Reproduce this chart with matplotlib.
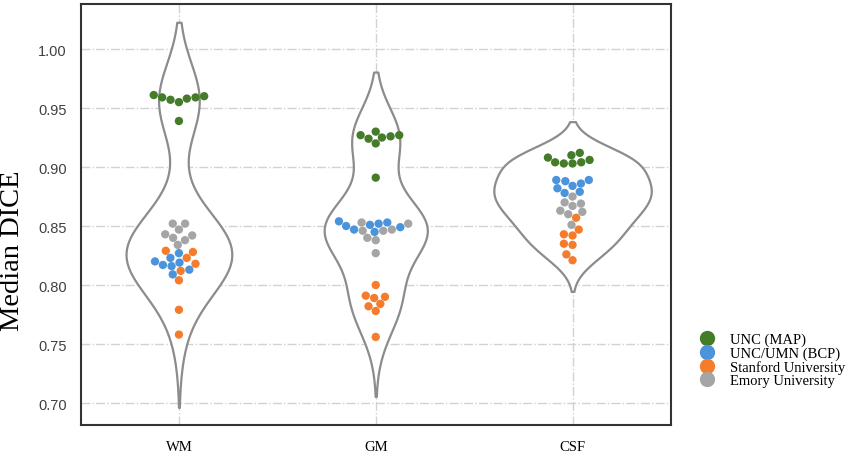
import numpy as np
import pandas as pd
import matplotlib
matplotlib.use("Agg")
import matplotlib.pyplot as plt
import seaborn as sns
from matplotlib.lines import Line2D

# tissue classes and sites
tissues = ["WM", "GM", "CSF"]
sites = ["UNC (MAP)", "UNC/UMN (BCP)", "Stanford University", "Emory University"]
site_colors = ["#447c2a", "#4b94dc", "#f47c2c", "#a5a5a5"]

# median DICE per subject
wm_map = [0.961, 0.959, 0.958, 0.955, 0.957, 0.959, 0.960, 0.939]
wm_bcp = [0.827, 0.820, 0.817, 0.816, 0.819, 0.809, 0.813, 0.823]
wm_stanford = [0.829, 0.828, 0.823, 0.818, 0.812, 0.804, 0.779, 0.758]
wm_emory = [0.852, 0.852, 0.847, 0.843, 0.842, 0.840, 0.838, 0.834]

gm_map = [0.930, 0.927, 0.927, 0.926, 0.925, 0.924, 0.920, 0.891]
gm_bcp = [0.854, 0.853, 0.852, 0.851, 0.847, 0.849, 0.845, 0.850]
gm_stanford = [0.800, 0.791, 0.790, 0.789, 0.784, 0.782, 0.778, 0.756]
gm_emory = [0.853, 0.852, 0.847, 0.846, 0.846, 0.840, 0.838, 0.827]

csf_map = [0.912, 0.910, 0.908, 0.904, 0.904, 0.903, 0.903, 0.906]
csf_bcp = [0.889, 0.889, 0.888, 0.884, 0.882, 0.879, 0.878, 0.886]
csf_stanford = [0.857, 0.847, 0.843, 0.842, 0.835, 0.834, 0.826, 0.821]
csf_emory = [0.875, 0.870, 0.869, 0.867, 0.863, 0.862, 0.860, 0.851]

groups = {
    "WM": [wm_map, wm_bcp, wm_stanford, wm_emory],
    "GM": [gm_map, gm_bcp, gm_stanford, gm_emory],
    "CSF": [csf_map, csf_bcp, csf_stanford, csf_emory],
}

rows = []
for t in tissues:
    for site, vals in zip(sites, groups[t]):
        for v in vals:
            rows.append((t, site, v))
df = pd.DataFrame(rows, columns=["tissue", "site", "dice"])

fig = plt.figure(figsize=(8.52, 4.6), dpi=100)
ax = fig.add_axes([0.0945, 0.075, 0.693, 0.914])

sns.violinplot(data=df, x="tissue", y="dice", order=tissues, color="white",
               linecolor="#8c8c8c", linewidth=1.6, inner=None,
               density_norm="area", ax=ax)
sns.swarmplot(data=df, x="tissue", y="dice", order=tissues, hue="site",
              hue_order=sites, palette=site_colors, size=6, ax=ax,
              legend=False)

ax.set_xlim(-0.5, 2.5)
ax.set_ylim(0.6818, 1.0381)
ax.set_yticks(np.arange(0.70, 1.001, 0.05))
ax.yaxis.set_major_formatter(matplotlib.ticker.FormatStrFormatter("%.2f"))
ax.grid(True, linestyle="-.", color="#d2d2d2", linewidth=1)
ax.set_axisbelow(True)
for s in ax.spines.values():
    s.set_color("#333333")
    s.set_linewidth(1.5)

ax.tick_params(length=0)
ax.tick_params(axis="y", pad=10, labelsize=10.5, labelcolor="#404040")
ax.tick_params(axis="x", pad=11, labelsize=10.5)
for lab in ax.get_yticklabels():
    lab.set_family("Liberation Sans")
for lab in ax.get_xticklabels():
    lab.set_family("Liberation Serif")

ax.set_xlabel("")
ax.set_ylabel("Median DICE", family="Liberation Serif", fontsize=20.5)
ax.yaxis.set_label_coords(-0.094, 0.415)

handles = [Line2D([], [], marker="o", linestyle="", markersize=10,
                  markerfacecolor=c, markeredgecolor=c) for c in site_colors]
fig.legend(handles, sites, loc="upper left", bbox_to_anchor=(0.811, 0.29),
           frameon=False, prop={"family": "Liberation Serif", "size": 10.5},
           handletextpad=1.0, labelspacing=0.0, borderpad=0, handlelength=1.2)

fig.savefig("out.png", dpi=100)
